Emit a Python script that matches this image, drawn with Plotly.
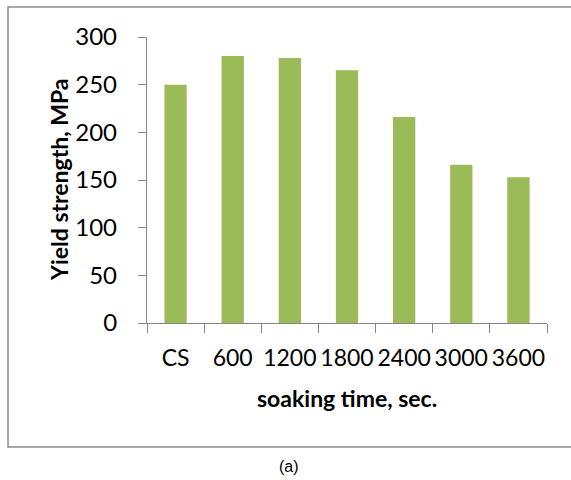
import plotly.graph_objects as go

categories = ["CS", "600", "1200", "1800", "2400", "3000", "3600"]
yield_strength = [250, 280, 278, 265, 216, 166, 153]

fig = go.Figure()
fig.add_trace(go.Bar(
    x=categories, y=yield_strength,
    marker=dict(color="#9BBB59", line=dict(width=0)),
    width=0.39,
))

axis_color = "#868686"
L, R, T, B = 147, 24, 37, 157
PW, PH = 571 - L - R, 480 - T - B

def px_x(x):
    return (x - L) / PW

def px_y(y):
    return (480 - B - y) / PH

fig.update_layout(
    width=571, height=480,
    margin=dict(l=L, r=R, t=T, b=B, autoexpand=False),
    paper_bgcolor="white", plot_bgcolor="white",
    showlegend=False,
    font=dict(family="Lato, sans-serif", color="black"),
    xaxis=dict(
        type="category",
        showline=True, linecolor=axis_color, linewidth=1.3,
        ticks="outside", ticklen=9, tickcolor=axis_color, tickwidth=1.3,
        tickson="boundaries",
        tickangle=0,
        tickfont=dict(size=23),
        ticklabelstandoff=14,
        showgrid=False,
    ),
    yaxis=dict(
        range=[0, 300], dtick=50,
        showline=True, linecolor=axis_color, linewidth=1.3,
        ticks="outside", ticklen=8, tickcolor=axis_color, tickwidth=1.3,
        tickfont=dict(size=24),
        ticklabelstandoff=16,
        showgrid=False, zeroline=False,
    ),
    shapes=[dict(
        type="rect", xref="paper", yref="paper",
        x0=px_x(8), x1=px_x(640), y0=px_y(447), y1=px_y(7),
        line=dict(color="#8c8c8c", width=1.5), fillcolor="rgba(0,0,0,0)",
        layer="below",
    )],
    annotations=[
        dict(text="<b>soaking time, sec.</b>", xref="paper", yref="paper",
             x=px_x(347), y=px_y(398), showarrow=False,
             font=dict(size=23), xanchor="center", yanchor="middle"),
        dict(text="<b>Yield strength, MPa</b>", xref="paper", yref="paper",
             x=px_x(59), y=px_y(180), showarrow=False, textangle=-90,
             font=dict(size=23), xanchor="center", yanchor="middle"),
        dict(text="(a)", xref="paper", yref="paper",
             x=px_x(289), y=px_y(466), showarrow=False,
             font=dict(family="Liberation Sans, Arial", size=16),
             xanchor="center", yanchor="middle"),
    ],
)

fig.write_html("out.html")
